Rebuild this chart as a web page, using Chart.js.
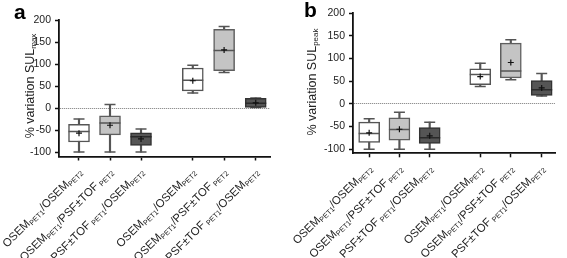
<!DOCTYPE html>
<html>
<head>
<meta charset="utf-8">
<script src="https://cdn.jsdelivr.net/npm/chart.js@4.4.0/dist/chart.umd.min.js"></script>
<style>
  html, body { margin: 0; padding: 0; background: #fff; }
  #wrap { position: relative; width: 567px; height: 258px; overflow: hidden; }
  .pane { position: absolute; top: 0; height: 258px; }
  #pa { left: 0; width: 283px; }
  #pb { left: 283px; width: 284px; }
</style>
</head>
<body>
<div id="wrap">
  <div class="pane" id="pa"><canvas id="ca" width="283" height="258"></canvas></div>
  <div class="pane" id="pb"><canvas id="cb" width="284" height="258"></canvas></div>
</div>
<script>
// ---------- data ----------
const categories = [
  'OSEM_{PET1}/OSEM_{PET2}',
  'OSEM_{PET1}/PSF±TOF_{ PET2}',
  'PSF±TOF_{ PET1}/OSEM_{PET2}',
  'OSEM_{PET1}/OSEM_{PET2}',
  'OSEM_{PET1}/PSF±TOF_{ PET2}',
  'PSF±TOF_{ PET1}/OSEM_{PET2}'
];
const yTickValues = [-100, -50, 0, 50, 100, 150, 200];

// Panel a: % variation SULmax
const aMin  = [-100, -100, -100, 34, 81, 1];
const aQ1   = [-77, -61, -85, 39, 85, 1.5];
const aMed  = [-53, -34, -65, 63, 131, 11];
const aQ3   = [-37, -17.5, -56, 91, 179, 22];
const aMax  = [-25, 8, -47.5, 97, 185, 23];
const aMean = [-57, -39, -70, 62, 132, 12];

// Panel b: % variation SULpeak
const bMin  = [-100, -100, -100, 38, 53, 17];
const bQ1   = [-85, -80, -87.5, 42, 57, 18.5];
const bMed  = [-65.5, -56.5, -74.5, 64.5, 72, 31];
const bQ3   = [-40.5, -31, -52.5, 77, 133.5, 51];
const bMax  = [-33, -18.5, -40.5, 89.5, 141, 67];
const bMean = [-64, -56, -70.5, 60, 91, 35];

// ---------- styling / layout ----------
const slots = [0, 1, 2, 3.67, 4.68, 5.7];
const fills   = ['#ffffff', '#c4c4c4', '#555555', '#ffffff', '#c4c4c4', '#555555'];
const borders = ['#555555', '#5e5e5e', '#333333', '#555555', '#5e5e5e', '#333333'];
const medCols = ['#555555', '#555555', '#2a2a2a', '#555555', '#555555', '#2a2a2a'];
const FONT = '"Liberation Sans", Arial, Helvetica, sans-serif';

function parseRich(s) {
  const out = [];
  const re = /([^_]+?)(?=_\{|$)|_\{([^}]*)\}/g;
  let m;
  while ((m = re.exec(s)) !== null) {
    if (m[1] !== undefined) out.push({ t: m[1], sub: false });
    else out.push({ t: m[2], sub: true });
  }
  return out;
}

const richPlugin = {
  id: 'rich',
  afterDraw(chart, args, o) {
    const ctx = chart.ctx;
    const xs = chart.scales.x;
    ctx.save();
    ctx.fillStyle = '#222';
    ctx.textBaseline = 'alphabetic';
    // rotated category labels
    o.labels.forEach((lab, i) => {
      const px = xs.getPixelForValue(slots[i]) + o.ldx;
      const py = xs.top + o.ldy;
      const segs = parseRich(lab);
      let total = 0;
      segs.forEach(s => { ctx.font = (s.sub ? o.subSize : o.mainSize) + 'px ' + FONT; s.w = ctx.measureText(s.t).width; total += s.w; });
      ctx.save();
      ctx.translate(px, py);
      ctx.rotate(-o.angle * Math.PI / 180);
      let x = -total;
      segs.forEach(s => {
        ctx.font = (s.sub ? o.subSize : o.mainSize) + 'px ' + FONT;
        ctx.fillText(s.t, x, s.sub ? o.subDrop : 0);
        x += s.w;
      });
      ctx.restore();
    });
    // y title
    const tsegs = parseRich(o.yTitle);
    let tw = 0;
    tsegs.forEach(s => { ctx.font = (s.sub ? 8 : 12.5) + 'px ' + FONT; s.w = ctx.measureText(s.t).width; tw += s.w; });
    ctx.save();
    ctx.translate(o.tx, o.ty);
    ctx.rotate(-Math.PI / 2);
    let x = -tw / 2;
    tsegs.forEach(s => {
      ctx.font = (s.sub ? 8 : 12.5) + 'px ' + FONT;
      ctx.fillText(s.t, x, s.sub ? 2 : 0);
      x += s.w;
    });
    ctx.restore();
    // panel letter
    ctx.fillStyle = '#000';
    ctx.font = 'bold 21px ' + FONT;
    ctx.fillText(o.letter, o.lx, o.ly);
    ctx.restore();
  }
};

function makeChart(id, d, cfg) {
  const boxData = slots.map((p, i) => ({ x: p, y: [d.q1[i], d.q3[i]] }));
  const whiskData = slots.map((p, i) => ({ x: p, y: [d.min[i], d.max[i]] }));
  const capData = [];
  slots.forEach((p, i) => { capData.push({ x: p, y: d.min[i] }); capData.push({ x: p, y: d.max[i] }); });
  const medData = slots.map((p, i) => ({ x: p, y: d.med[i] }));
  const meanData = slots.map((p, i) => ({ x: p, y: d.mean[i] }));

  return new Chart(document.getElementById(id), {
    type: 'bar',
    data: {
      datasets: [
        { type: 'scatter', data: meanData, pointStyle: 'cross', radius: 3, borderWidth: 1.2,
          borderColor: '#111', backgroundColor: '#111', order: 0 },
        { type: 'scatter', data: medData, pointStyle: 'line', radius: 10.5, borderWidth: 1.5,
          borderColor: medCols, backgroundColor: medCols, order: 1 },
        { type: 'bar', data: boxData, backgroundColor: fills, borderColor: borders, borderWidth: 1.5,
          borderSkipped: false, barThickness: 21, grouped: false, order: 2 },
        { type: 'bar', data: whiskData, backgroundColor: '#555', borderWidth: 0,
          barThickness: 1.5, grouped: false, order: 3 },
        { type: 'scatter', data: capData, pointStyle: 'line', radius: 5.5, borderWidth: 1.5,
          borderColor: '#555', backgroundColor: '#555', order: 4 }
      ]
    },
    options: {
      responsive: false,
      animation: false,
      events: [],
      layout: { padding: { top: cfg.top, right: cfg.right, left: 0, bottom: 0 } },
      plugins: {
        legend: { display: false },
        tooltip: { enabled: false },
        rich: cfg.rich
      },
      scales: {
        x: {
          type: 'linear',
          offset: false,
          min: cfg.xmin, max: cfg.xmax,
          afterBuildTicks: s => { s.ticks = slots.map(v => ({ value: v })); },
          afterFit: s => { s.height = cfg.xh; },
          ticks: { display: false },
          grid: { display: true, offset: false, drawOnChartArea: false, drawTicks: true, tickLength: 4,
                  tickColor: '#111', tickWidth: 1.5 },
          border: { display: true, color: '#111', width: 1.8 }
        },
        y: {
          min: cfg.ymin, max: 200,
          afterBuildTicks: s => { s.ticks = yTickValues.map(v => ({ value: v })); },
          afterFit: s => { s.width = cfg.yw; },
          ticks: { color: '#222', font: { family: FONT, size: 10.5 }, padding: 4 },
          grid: { display: true, drawOnChartArea: true, drawTicks: true, tickLength: 4,
                  color: c => (c.tick && c.tick.value === 0) ? '#777' : 'rgba(0,0,0,0)',
                  lineWidth: 1, tickColor: '#111', tickWidth: 1.5 },
          border: { display: true, color: '#111', width: 1.8, dash: [1, 1] }
        }
      }
    },
    plugins: [richPlugin]
  });
}

makeChart('ca', { min: aMin, q1: aQ1, med: aMed, q3: aQ3, max: aMax, mean: aMean }, {
  top: 20, right: 13, xh: 101.5, yw: 59, xmin: -0.645, xmax: 6.16, ymin: -110,
  rich: { labels: categories, ldx: 3.5, ldy: 16, angle: 45, mainSize: 11.4, subSize: 7.3, subDrop: 2,
          yTitle: '% variation SUL_{max}', tx: 34, ty: 86, letter: 'a', lx: 14, ly: 19 }
});
makeChart('cb', { min: bMin, q1: bQ1, med: bMed, q3: bQ3, max: bMax, mean: bMean }, {
  top: 13, right: 5, xh: 104.7, yw: 70, xmin: -0.534, xmax: 6.14, ymin: -109,
  rich: { labels: categories, ldx: 3.5, ldy: 16, angle: 45, mainSize: 11.4, subSize: 7.3, subDrop: 2,
          yTitle: '% variation SUL_{peak}', tx: 33, ty: 82, letter: 'b', lx: 21, ly: 17 }
});
</script>
</body>
</html>
